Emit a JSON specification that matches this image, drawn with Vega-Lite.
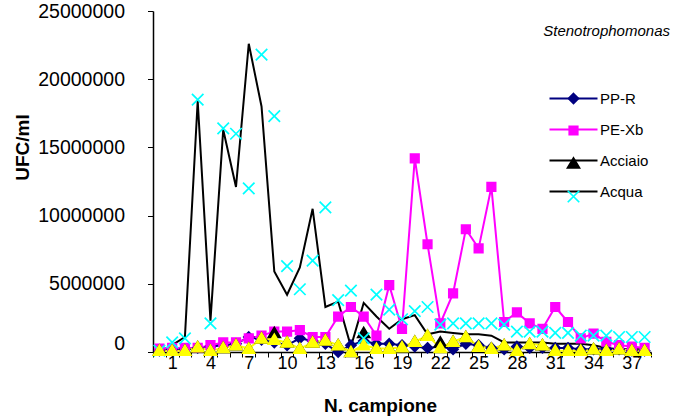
{
  "$schema": "https://vega.github.io/schema/vega-lite/v6.json",
  "width": 498,
  "height": 341,
  "autosize": "none",
  "padding": {"left": 153, "top": 11, "right": 22, "bottom": 67},
  "title": {
    "text": "Stenotrophomonas",
    "anchor": "end",
    "orient": "top",
    "frame": "group",
    "font": "Liberation Sans",
    "fontStyle": "italic",
    "fontWeight": "normal",
    "fontSize": 15,
    "color": "#000000",
    "baseline": "middle",
    "offset": 0,
    "dx": 19,
    "dy": 45
  },
  "datasets": {
    "misure": [
      {"campione": 0, "serie": "PP-R", "ufc": 100000},
      {"campione": 1, "serie": "PP-R", "ufc": 200000},
      {"campione": 2, "serie": "PP-R", "ufc": 200000},
      {"campione": 3, "serie": "PP-R", "ufc": 300000},
      {"campione": 4, "serie": "PP-R", "ufc": 400000},
      {"campione": 5, "serie": "PP-R", "ufc": 500000},
      {"campione": 6, "serie": "PP-R", "ufc": 600000},
      {"campione": 7, "serie": "PP-R", "ufc": 1100000},
      {"campione": 8, "serie": "PP-R", "ufc": 900000},
      {"campione": 9, "serie": "PP-R", "ufc": 700000},
      {"campione": 10, "serie": "PP-R", "ufc": 500000},
      {"campione": 11, "serie": "PP-R", "ufc": 1000000},
      {"campione": 12, "serie": "PP-R", "ufc": 800000},
      {"campione": 13, "serie": "PP-R", "ufc": 600000},
      {"campione": 14, "serie": "PP-R", "ufc": 0},
      {"campione": 15, "serie": "PP-R", "ufc": 500000},
      {"campione": 16, "serie": "PP-R", "ufc": 800000},
      {"campione": 17, "serie": "PP-R", "ufc": 600000},
      {"campione": 18, "serie": "PP-R", "ufc": 600000},
      {"campione": 19, "serie": "PP-R", "ufc": 500000},
      {"campione": 20, "serie": "PP-R", "ufc": 400000},
      {"campione": 21, "serie": "PP-R", "ufc": 300000},
      {"campione": 22, "serie": "PP-R", "ufc": 400000},
      {"campione": 23, "serie": "PP-R", "ufc": 200000},
      {"campione": 24, "serie": "PP-R", "ufc": 600000},
      {"campione": 25, "serie": "PP-R", "ufc": 500000},
      {"campione": 26, "serie": "PP-R", "ufc": 300000},
      {"campione": 27, "serie": "PP-R", "ufc": 200000},
      {"campione": 28, "serie": "PP-R", "ufc": 400000},
      {"campione": 29, "serie": "PP-R", "ufc": 300000},
      {"campione": 30, "serie": "PP-R", "ufc": 300000},
      {"campione": 31, "serie": "PP-R", "ufc": 300000},
      {"campione": 32, "serie": "PP-R", "ufc": 300000},
      {"campione": 33, "serie": "PP-R", "ufc": 200000},
      {"campione": 34, "serie": "PP-R", "ufc": 200000},
      {"campione": 35, "serie": "PP-R", "ufc": 200000},
      {"campione": 36, "serie": "PP-R", "ufc": 200000},
      {"campione": 37, "serie": "PP-R", "ufc": 100000},
      {"campione": 38, "serie": "PP-R", "ufc": 100000},
      {"campione": 0, "serie": "PE-Xb", "ufc": 250000},
      {"campione": 1, "serie": "PE-Xb", "ufc": 300000},
      {"campione": 2, "serie": "PE-Xb", "ufc": 300000},
      {"campione": 3, "serie": "PE-Xb", "ufc": 300000},
      {"campione": 4, "serie": "PE-Xb", "ufc": 500000},
      {"campione": 5, "serie": "PE-Xb", "ufc": 700000},
      {"campione": 6, "serie": "PE-Xb", "ufc": 700000},
      {"campione": 7, "serie": "PE-Xb", "ufc": 1000000},
      {"campione": 8, "serie": "PE-Xb", "ufc": 1200000},
      {"campione": 9, "serie": "PE-Xb", "ufc": 1500000},
      {"campione": 10, "serie": "PE-Xb", "ufc": 1500000},
      {"campione": 11, "serie": "PE-Xb", "ufc": 1600000},
      {"campione": 12, "serie": "PE-Xb", "ufc": 1100000},
      {"campione": 13, "serie": "PE-Xb", "ufc": 1100000},
      {"campione": 14, "serie": "PE-Xb", "ufc": 2600000},
      {"campione": 15, "serie": "PE-Xb", "ufc": 3300000},
      {"campione": 16, "serie": "PE-Xb", "ufc": 2600000},
      {"campione": 17, "serie": "PE-Xb", "ufc": 1200000},
      {"campione": 18, "serie": "PE-Xb", "ufc": 4900000},
      {"campione": 19, "serie": "PE-Xb", "ufc": 1700000},
      {"campione": 20, "serie": "PE-Xb", "ufc": 14200000},
      {"campione": 21, "serie": "PE-Xb", "ufc": 7900000},
      {"campione": 22, "serie": "PE-Xb", "ufc": 2100000},
      {"campione": 23, "serie": "PE-Xb", "ufc": 4300000},
      {"campione": 24, "serie": "PE-Xb", "ufc": 9000000},
      {"campione": 25, "serie": "PE-Xb", "ufc": 7600000},
      {"campione": 26, "serie": "PE-Xb", "ufc": 12100000},
      {"campione": 27, "serie": "PE-Xb", "ufc": 2200000},
      {"campione": 28, "serie": "PE-Xb", "ufc": 2900000},
      {"campione": 29, "serie": "PE-Xb", "ufc": 2100000},
      {"campione": 30, "serie": "PE-Xb", "ufc": 1700000},
      {"campione": 31, "serie": "PE-Xb", "ufc": 3300000},
      {"campione": 32, "serie": "PE-Xb", "ufc": 2200000},
      {"campione": 33, "serie": "PE-Xb", "ufc": 1000000},
      {"campione": 34, "serie": "PE-Xb", "ufc": 1350000},
      {"campione": 35, "serie": "PE-Xb", "ufc": 750000},
      {"campione": 36, "serie": "PE-Xb", "ufc": 500000},
      {"campione": 37, "serie": "PE-Xb", "ufc": 400000},
      {"campione": 38, "serie": "PE-Xb", "ufc": 300000},
      {"campione": 0, "serie": "Acciaio", "ufc": 100000},
      {"campione": 1, "serie": "Acciaio", "ufc": 100000},
      {"campione": 2, "serie": "Acciaio", "ufc": 100000},
      {"campione": 3, "serie": "Acciaio", "ufc": 350000},
      {"campione": 4, "serie": "Acciaio", "ufc": 100000},
      {"campione": 5, "serie": "Acciaio", "ufc": 300000},
      {"campione": 6, "serie": "Acciaio", "ufc": 500000},
      {"campione": 7, "serie": "Acciaio", "ufc": 250000},
      {"campione": 8, "serie": "Acciaio", "ufc": 1000000},
      {"campione": 9, "serie": "Acciaio", "ufc": 1400000},
      {"campione": 10, "serie": "Acciaio", "ufc": 700000},
      {"campione": 11, "serie": "Acciaio", "ufc": 250000},
      {"campione": 12, "serie": "Acciaio", "ufc": 700000},
      {"campione": 13, "serie": "Acciaio", "ufc": 850000},
      {"campione": 14, "serie": "Acciaio", "ufc": 500000},
      {"campione": 15, "serie": "Acciaio", "ufc": 0},
      {"campione": 16, "serie": "Acciaio", "ufc": 1400000},
      {"campione": 17, "serie": "Acciaio", "ufc": 250000},
      {"campione": 18, "serie": "Acciaio", "ufc": 250000},
      {"campione": 19, "serie": "Acciaio", "ufc": 350000},
      {"campione": 20, "serie": "Acciaio", "ufc": 750000},
      {"campione": 21, "serie": "Acciaio", "ufc": 1200000},
      {"campione": 22, "serie": "Acciaio", "ufc": 700000},
      {"campione": 23, "serie": "Acciaio", "ufc": 750000},
      {"campione": 24, "serie": "Acciaio", "ufc": 1100000},
      {"campione": 25, "serie": "Acciaio", "ufc": 400000},
      {"campione": 26, "serie": "Acciaio", "ufc": 250000},
      {"campione": 27, "serie": "Acciaio", "ufc": 500000},
      {"campione": 28, "serie": "Acciaio", "ufc": 100000},
      {"campione": 29, "serie": "Acciaio", "ufc": 600000},
      {"campione": 30, "serie": "Acciaio", "ufc": 500000},
      {"campione": 31, "serie": "Acciaio", "ufc": 100000},
      {"campione": 32, "serie": "Acciaio", "ufc": 100000},
      {"campione": 33, "serie": "Acciaio", "ufc": 100000},
      {"campione": 34, "serie": "Acciaio", "ufc": 200000},
      {"campione": 35, "serie": "Acciaio", "ufc": 100000},
      {"campione": 36, "serie": "Acciaio", "ufc": 200000},
      {"campione": 37, "serie": "Acciaio", "ufc": 100000},
      {"campione": 38, "serie": "Acciaio", "ufc": 100000},
      {"campione": 0, "serie": "Acqua", "ufc": 100000},
      {"campione": 1, "serie": "Acqua", "ufc": 700000},
      {"campione": 2, "serie": "Acqua", "ufc": 1000000},
      {"campione": 3, "serie": "Acqua", "ufc": 18500000},
      {"campione": 4, "serie": "Acqua", "ufc": 2100000},
      {"campione": 5, "serie": "Acqua", "ufc": 16400000},
      {"campione": 6, "serie": "Acqua", "ufc": 16000000},
      {"campione": 7, "serie": "Acqua", "ufc": 12000000},
      {"campione": 8, "serie": "Acqua", "ufc": 21800000},
      {"campione": 9, "serie": "Acqua", "ufc": 17300000},
      {"campione": 10, "serie": "Acqua", "ufc": 6300000},
      {"campione": 11, "serie": "Acqua", "ufc": 4600000},
      {"campione": 12, "serie": "Acqua", "ufc": 6700000},
      {"campione": 13, "serie": "Acqua", "ufc": 10600000},
      {"campione": 14, "serie": "Acqua", "ufc": 3800000},
      {"campione": 15, "serie": "Acqua", "ufc": 4500000},
      {"campione": 16, "serie": "Acqua", "ufc": 1000000},
      {"campione": 17, "serie": "Acqua", "ufc": 4200000},
      {"campione": 18, "serie": "Acqua", "ufc": 3100000},
      {"campione": 19, "serie": "Acqua", "ufc": 2400000},
      {"campione": 20, "serie": "Acqua", "ufc": 3000000},
      {"campione": 21, "serie": "Acqua", "ufc": 3300000},
      {"campione": 22, "serie": "Acqua", "ufc": 2000000},
      {"campione": 23, "serie": "Acqua", "ufc": 2100000},
      {"campione": 24, "serie": "Acqua", "ufc": 2100000},
      {"campione": 25, "serie": "Acqua", "ufc": 2100000},
      {"campione": 26, "serie": "Acqua", "ufc": 2100000},
      {"campione": 27, "serie": "Acqua", "ufc": 2000000},
      {"campione": 28, "serie": "Acqua", "ufc": 1500000},
      {"campione": 29, "serie": "Acqua", "ufc": 1500000},
      {"campione": 30, "serie": "Acqua", "ufc": 1500000},
      {"campione": 31, "serie": "Acqua", "ufc": 1400000},
      {"campione": 32, "serie": "Acqua", "ufc": 1400000},
      {"campione": 33, "serie": "Acqua", "ufc": 1200000},
      {"campione": 34, "serie": "Acqua", "ufc": 1200000},
      {"campione": 35, "serie": "Acqua", "ufc": 1200000},
      {"campione": 36, "serie": "Acqua", "ufc": 1100000},
      {"campione": 37, "serie": "Acqua", "ufc": 1100000},
      {"campione": 38, "serie": "Acqua", "ufc": 1100000},
      {"campione": 0, "serie": "Serie 5", "ufc": 100000},
      {"campione": 1, "serie": "Serie 5", "ufc": 100000},
      {"campione": 2, "serie": "Serie 5", "ufc": 100000},
      {"campione": 3, "serie": "Serie 5", "ufc": 350000},
      {"campione": 4, "serie": "Serie 5", "ufc": 100000},
      {"campione": 5, "serie": "Serie 5", "ufc": 300000},
      {"campione": 6, "serie": "Serie 5", "ufc": 500000},
      {"campione": 7, "serie": "Serie 5", "ufc": 250000},
      {"campione": 8, "serie": "Serie 5", "ufc": 1000000},
      {"campione": 9, "serie": "Serie 5", "ufc": 900000},
      {"campione": 10, "serie": "Serie 5", "ufc": 700000},
      {"campione": 11, "serie": "Serie 5", "ufc": 250000},
      {"campione": 12, "serie": "Serie 5", "ufc": 700000},
      {"campione": 13, "serie": "Serie 5", "ufc": 850000},
      {"campione": 14, "serie": "Serie 5", "ufc": 500000},
      {"campione": 15, "serie": "Serie 5", "ufc": 0},
      {"campione": 16, "serie": "Serie 5", "ufc": 500000},
      {"campione": 17, "serie": "Serie 5", "ufc": 250000},
      {"campione": 18, "serie": "Serie 5", "ufc": 250000},
      {"campione": 19, "serie": "Serie 5", "ufc": 350000},
      {"campione": 20, "serie": "Serie 5", "ufc": 750000},
      {"campione": 21, "serie": "Serie 5", "ufc": 1200000},
      {"campione": 22, "serie": "Serie 5", "ufc": 300000},
      {"campione": 23, "serie": "Serie 5", "ufc": 750000},
      {"campione": 24, "serie": "Serie 5", "ufc": 1100000},
      {"campione": 25, "serie": "Serie 5", "ufc": 400000},
      {"campione": 26, "serie": "Serie 5", "ufc": 250000},
      {"campione": 27, "serie": "Serie 5", "ufc": 500000},
      {"campione": 28, "serie": "Serie 5", "ufc": 100000},
      {"campione": 29, "serie": "Serie 5", "ufc": 600000},
      {"campione": 30, "serie": "Serie 5", "ufc": 500000},
      {"campione": 31, "serie": "Serie 5", "ufc": 100000},
      {"campione": 32, "serie": "Serie 5", "ufc": 100000},
      {"campione": 33, "serie": "Serie 5", "ufc": 100000},
      {"campione": 34, "serie": "Serie 5", "ufc": 200000},
      {"campione": 35, "serie": "Serie 5", "ufc": 100000},
      {"campione": 36, "serie": "Serie 5", "ufc": 200000},
      {"campione": 37, "serie": "Serie 5", "ufc": 100000},
      {"campione": 38, "serie": "Serie 5", "ufc": 100000}
    ],
    "linea_acqua": [
      {"campione": 0, "serie": "Acqua", "ufc": 0},
      {"campione": 1, "serie": "Acqua", "ufc": 500000},
      {"campione": 2, "serie": "Acqua", "ufc": 1100000},
      {"campione": 3, "serie": "Acqua", "ufc": 18400000},
      {"campione": 4, "serie": "Acqua", "ufc": 2300000},
      {"campione": 5, "serie": "Acqua", "ufc": 16300000},
      {"campione": 6, "serie": "Acqua", "ufc": 12100000},
      {"campione": 7, "serie": "Acqua", "ufc": 22600000},
      {"campione": 8, "serie": "Acqua", "ufc": 18000000},
      {"campione": 9, "serie": "Acqua", "ufc": 5900000},
      {"campione": 10, "serie": "Acqua", "ufc": 4200000},
      {"campione": 11, "serie": "Acqua", "ufc": 6200000},
      {"campione": 12, "serie": "Acqua", "ufc": 10500000},
      {"campione": 13, "serie": "Acqua", "ufc": 3300000},
      {"campione": 14, "serie": "Acqua", "ufc": 3700000},
      {"campione": 15, "serie": "Acqua", "ufc": 400000},
      {"campione": 16, "serie": "Acqua", "ufc": 3600000},
      {"campione": 17, "serie": "Acqua", "ufc": 2600000},
      {"campione": 18, "serie": "Acqua", "ufc": 1700000},
      {"campione": 19, "serie": "Acqua", "ufc": 2400000},
      {"campione": 20, "serie": "Acqua", "ufc": 2700000},
      {"campione": 21, "serie": "Acqua", "ufc": 1300000},
      {"campione": 22, "serie": "Acqua", "ufc": 1500000},
      {"campione": 23, "serie": "Acqua", "ufc": 1400000},
      {"campione": 24, "serie": "Acqua", "ufc": 1300000},
      {"campione": 25, "serie": "Acqua", "ufc": 1300000},
      {"campione": 26, "serie": "Acqua", "ufc": 1200000},
      {"campione": 27, "serie": "Acqua", "ufc": 700000},
      {"campione": 28, "serie": "Acqua", "ufc": 700000},
      {"campione": 29, "serie": "Acqua", "ufc": 700000},
      {"campione": 30, "serie": "Acqua", "ufc": 700000},
      {"campione": 31, "serie": "Acqua", "ufc": 600000},
      {"campione": 32, "serie": "Acqua", "ufc": 600000},
      {"campione": 33, "serie": "Acqua", "ufc": 600000},
      {"campione": 34, "serie": "Acqua", "ufc": 500000},
      {"campione": 35, "serie": "Acqua", "ufc": 300000},
      {"campione": 36, "serie": "Acqua", "ufc": 200000},
      {"campione": 37, "serie": "Acqua", "ufc": 200000},
      {"campione": 38, "serie": "Acqua", "ufc": 200000}
    ]
  },
  "encoding": {
    "x": {
      "field": "campione",
      "type": "quantitative",
      "scale": {"domain": [-0.5, 38.5], "nice": false, "zero": false},
      "axis": {
        "values": [-0.5, 0.5, 1.5, 2.5, 3.5, 4.5, 5.5, 6.5, 7.5, 8.5, 9.5, 10.5, 11.5, 12.5, 13.5, 14.5, 15.5, 16.5, 17.5, 18.5, 19.5, 20.5, 21.5, 22.5, 23.5, 24.5, 25.5, 26.5, 27.5, 28.5, 29.5, 30.5, 31.5, 32.5, 33.5, 34.5, 35.5, 36.5, 37.5, 38.5],
        "labelExpr": "(datum.value + 0.5) % 3 === 1 ? format(datum.value + 0.5, 'd') : ''",
        "labelOffset": 6.4,
        "labelOverlap": false,
        "labelFlush": false,
        "labelBound": false,
        "labelFont": "Liberation Sans",
        "labelFontSize": 18,
        "labelColor": "#000000",
        "labelPadding": -3,
        "tickSize": 5,
        "tickColor": "#000000",
        "domainColor": "#000000",
        "domainWidth": 1.5,
        "grid": false,
        "title": "N. campione",
        "titleFont": "Liberation Sans",
        "titleFontSize": 19,
        "titleFontWeight": "bold",
        "titleColor": "#000000",
        "titleX": 227,
        "titleY": 53,
        "titleAlign": "center",
        "titleBaseline": "middle"
      }
    },
    "y": {
      "field": "ufc",
      "type": "quantitative",
      "scale": {"domain": [0, 25000000], "nice": false},
      "axis": {
        "values": [0, 5000000, 10000000, 15000000, 20000000, 25000000],
        "format": "d",
        "labelFont": "Liberation Sans",
        "labelFontSize": 19.5,
        "labelColor": "#000000",
        "labelPadding": 23,
        "labelOffset": {"condition": {"test": "datum.value === 0", "value": -9}, "value": 0},
        "tickSize": 5.5,
        "tickColor": "#000000",
        "domainColor": "#000000",
        "domainWidth": 1.5,
        "grid": false,
        "title": "UFC/ml",
        "titleFont": "Liberation Sans",
        "titleFontSize": 19,
        "titleFontWeight": "bold",
        "titleColor": "#000000",
        "titleX": -131,
        "titleY": 136,
        "titleAlign": "center",
        "titleBaseline": "middle"
      }
    }
  },
  "layer": [
    {
      "data": {"name": "linea_acqua"},
      "mark": {"type": "line", "strokeWidth": 2},
      "encoding": {
        "color": {
          "field": "serie",
          "type": "nominal",
          "scale": {
            "domain": ["Serie 5", "PP-R", "PE-Xb", "Acciaio", "Acqua"],
            "range": ["#ffff00", "#000080", "#ff00ff", "#000000", "#000000"]
          },
          "legend": {
            "values": ["PP-R", "PE-Xb", "Acciaio", "Acqua"],
            "orient": "none",
            "legendX": 394,
            "legendY": 80,
            "title": null,
            "padding": 0,
            "rowPadding": 15,
            "symbolType": "M-4.8,0H4.8",
            "symbolSize": 100,
            "symbolOffset": 19,
            "symbolStrokeWidth": 2,
            "labelOffset": 19,
            "labelFont": "Liberation Sans",
            "labelFontSize": 15,
            "labelColor": "#000000"
          }
        }
      }
    },
    {
      "data": {"name": "misure"},
      "transform": [{"filter": "datum.serie !== 'Acciaio' && datum.serie !== 'Acqua'"}],
      "mark": {"type": "line", "strokeWidth": 2},
      "encoding": {
        "color": {"field": "serie", "type": "nominal"}
      }
    },
    {
      "data": {"name": "misure"},
      "mark": {"type": "point", "filled": true, "opacity": 1, "size": 100, "strokeWidth": 1.7},
      "encoding": {
        "shape": {
          "field": "serie",
          "type": "nominal",
          "scale": {
            "domain": ["PP-R", "PE-Xb", "Acciaio", "Acqua", "Serie 5"],
            "range": ["M0,-1L1,0L0,1L-1,0Z", "M-0.85,-0.85H0.85V0.85H-0.85Z", "M0,-1.1L1.2,0.9H-1.2Z", "M-1.15,-1.15L1.15,1.15M-1.15,1.15L1.15,-1.15", "M0,-1.1L1.2,0.9H-1.2Z"]
          },
          "legend": {
            "values": ["PP-R", "PE-Xb", "Acciaio", "Acqua"],
            "orient": "none",
            "legendX": 394,
            "legendY": 80,
            "title": null,
            "padding": 0,
            "rowPadding": 15,
            "symbolSize": 100,
            "symbolOffset": 19,
            "symbolStrokeWidth": 1.7,
            "labelOffset": 19,
            "labelFont": "Liberation Sans",
            "labelFontSize": 15,
            "labelExpr": "''"
          }
        },
        "fill": {
          "field": "serie",
          "type": "nominal",
          "scale": {
            "domain": ["PP-R", "PE-Xb", "Acciaio", "Acqua", "Serie 5"],
            "range": ["#000080", "#ff00ff", "#000000", "#00ffff", "#ffff00"]
          }
        },
        "stroke": {
          "field": "serie",
          "type": "nominal",
          "scale": {
            "domain": ["PP-R", "PE-Xb", "Acciaio", "Acqua", "Serie 5"],
            "range": ["#000080", "#ff00ff", "#000000", "#00ffff", "#ffff00"]
          }
        }
      }
    }
  ],
  "config": {
    "view": {"stroke": null},
    "font": "Liberation Sans"
  }
}
